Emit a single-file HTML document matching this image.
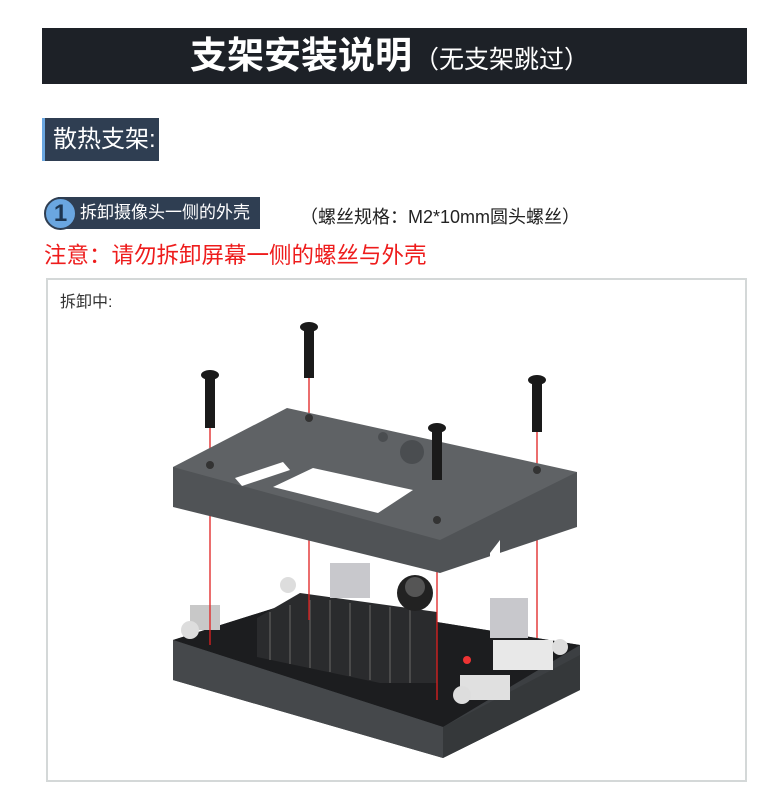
<!DOCTYPE html>
<html><head><meta charset="utf-8"><style>
body{margin:0;width:783px;height:811px;background:#fff;position:relative;overflow:hidden;font-family:"Liberation Sans","Noto Sans CJK SC",sans-serif}
.abs{position:absolute}
</style></head><body>
<div class="abs" style="left:42px;top:28px;width:705px;height:56px;background:#1d2127"></div>
<div class="abs" style="left:190px;top:30px;color:#fff;font-size:37px;font-weight:bold;line-height:52px;white-space:nowrap">支架安装说明<span style="font-size:25px;font-weight:normal;margin-left:2px">（无支架跳过）</span></div>
<div class="abs" style="left:42px;top:118px;width:117px;height:43px;background:#2f3e52;border-left:3px solid #6aa6e0;box-sizing:border-box"></div>
<div class="abs" style="left:53px;top:118px;color:#fff;font-size:24px;line-height:43px">散热支架:</div>
<div class="abs" style="left:58px;top:197px;width:202px;height:32px;background:#2f3e52"></div>
<div class="abs" style="left:44px;top:197px;width:29px;height:29px;border-radius:50%;background:#6aa6e0;border:2px solid #2f3e52;color:#1d3550;font-weight:bold;font-size:24px;line-height:29px;text-align:center">1</div>
<div class="abs" style="left:80px;top:197px;color:#fff;font-size:17px;line-height:32px;white-space:nowrap">拆卸摄像头一侧的外壳</div>
<div class="abs" style="left:300px;top:203px;color:#222;font-size:18px;line-height:28px;white-space:nowrap">（螺丝规格：M2*10mm圆头螺丝）</div>
<div class="abs" style="left:44px;top:241px;color:#ee1c1c;font-size:22.5px;line-height:30px;white-space:nowrap">注意：请勿拆卸屏幕一侧的螺丝与外壳</div>
<div class="abs" style="left:46px;top:278px;width:701px;height:504px;border:2px solid #d4d8d8;box-sizing:border-box"></div>
<div class="abs" style="left:60px;top:291px;color:#333;font-size:16px;line-height:24px">拆卸中:</div>
<svg class="abs" style="left:0;top:0" width="783" height="811">
<polygon points="173,640 300,600 580,645 580,690 443,758 173,680" fill="#3c3f42"/>
<polygon points="173,640 300,600 580,645 443,727" fill="#1c1d1f"/>
<polygon points="173,640 443,727 443,758 173,680" fill="#45484b"/>
<polygon points="443,727 580,655 580,690 443,758" fill="#35383a"/>
<polygon points="257,618 300,593 437,612 437,683 380,683 257,657" fill="#2a2b2d"/>
<g stroke="#555" stroke-width="1.5">
<line x1="270" y1="612" x2="270" y2="660"/><line x1="290" y1="605" x2="290" y2="664"/><line x1="310" y1="600" x2="310" y2="668"/><line x1="330" y1="600" x2="330" y2="672"/><line x1="350" y1="603" x2="350" y2="676"/><line x1="370" y1="605" x2="370" y2="680"/><line x1="390" y1="607" x2="390" y2="683"/><line x1="410" y1="609" x2="410" y2="683"/></g>
<circle cx="415" cy="593" r="18" fill="#222"/><circle cx="415" cy="587" r="10" fill="#555"/>
<rect x="330" y="563" width="40" height="35" fill="#c8c8cc"/>
<rect x="490" y="598" width="38" height="40" fill="#c8c8cc"/>
<rect x="493" y="640" width="60" height="30" fill="#e8e8e8"/>
<rect x="460" y="675" width="50" height="25" fill="#e0e0e0"/>
<rect x="190" y="605" width="30" height="25" fill="#c8c8c8"/>
<circle cx="190" cy="630" r="9" fill="#ddd"/><circle cx="288" cy="585" r="8" fill="#ddd"/><circle cx="462" cy="695" r="9" fill="#ddd"/><circle cx="560" cy="647" r="8" fill="#ddd"/>
<circle cx="467" cy="660" r="4" fill="#e33"/>
<g stroke="#e02020" stroke-width="1.3">
<line x1="210" y1="427" x2="210" y2="645"/><line x1="309" y1="377" x2="309" y2="620"/><line x1="437" y1="480" x2="437" y2="700"/><line x1="537" y1="432" x2="537" y2="638"/></g>
<polygon points="173,467 173,507 440,573 577,527 577,472" fill="#505356"/>
<polygon points="490,553 500,540 500,572 490,570" fill="#fff"/>
<polygon points="173,467 287,408 577,472 440,540" fill="#5f6265"/>
<polygon points="273,487 313,468 413,490 378,513" fill="#fff"/>
<polygon points="235,478 283,462 290,470 242,486" fill="#fff"/>
<circle cx="412" cy="452" r="12" fill="#4a4d50"/><circle cx="383" cy="437" r="5" fill="#4a4d50"/>
<circle cx="210" cy="465" r="4" fill="#333"/><circle cx="309" cy="418" r="4" fill="#333"/><circle cx="437" cy="520" r="4" fill="#333"/><circle cx="537" cy="470" r="4" fill="#333"/>
<g fill="#1a1a1a">
<rect x="205" y="376" width="10" height="52"/><ellipse cx="210" cy="375" rx="9" ry="5"/>
<rect x="304" y="328" width="10" height="50"/><ellipse cx="309" cy="327" rx="9" ry="5"/>
<rect x="432" y="428" width="10" height="52"/><ellipse cx="437" cy="428" rx="9" ry="5"/>
<rect x="532" y="380" width="10" height="52"/><ellipse cx="537" cy="380" rx="9" ry="5"/>
</g>
</svg>
</body></html>
